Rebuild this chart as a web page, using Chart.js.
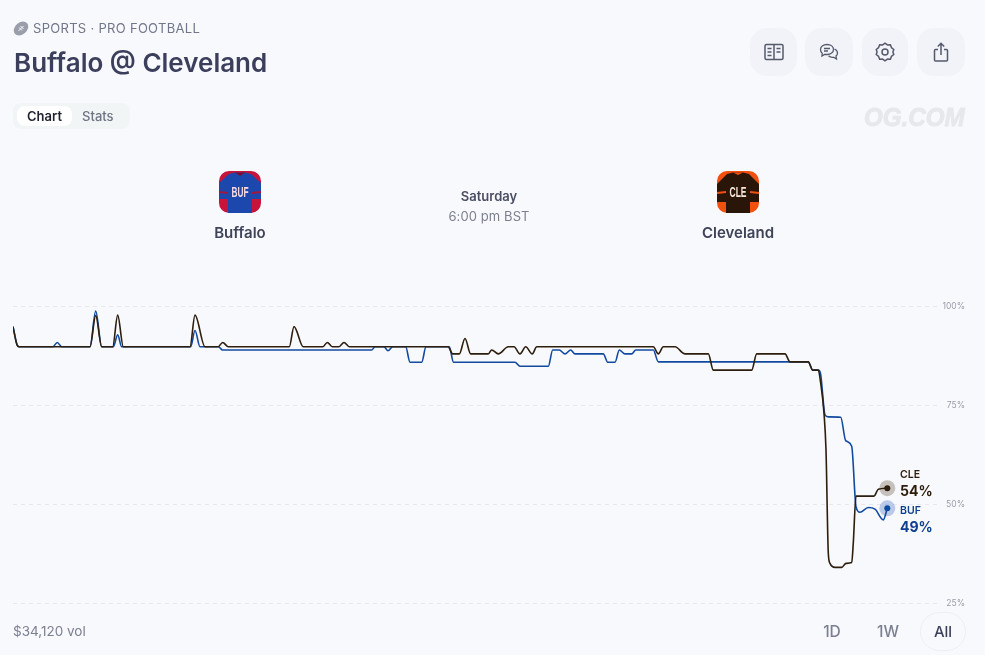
<!DOCTYPE html>
<html>
<head>
<meta charset="utf-8">
<title>Buffalo @ Cleveland</title>
<script src="https://cdn.jsdelivr.net/npm/chart.js@4"></script>
<style>
  html, body { margin: 0; padding: 0; }
  body { width: 985px; height: 655px; background: #f8f9fd; font-family: Inter, "Noto Sans", sans-serif; overflow: hidden; position: relative; }
  canvas { position: absolute; left: 0; top: 0; }
  .txt { position: absolute; white-space: nowrap; line-height: 1; }
  .center { transform: translateX(-50%); }
  .btn { position: absolute; top: 28px; width: 47px; height: 48px; border-radius: 17px; background: #f2f3f8; display: flex; align-items: center; justify-content: center; }
  .logo { position: absolute; top: 171px; width: 42px; height: 42px; }
</style>
</head>
<body>
<canvas id="priceChart" width="985" height="655"></canvas>

<svg style="position:absolute;left:13px;top:21px" width="16" height="15" viewBox="0 0 16 15">
  <ellipse cx="8" cy="7.500" rx="8" ry="6" transform="rotate(-40 8 7.500)" fill="#9a9eaa"/>
  <path d="M5.500 10 L10.500 5 M6 6.500l3 3M7.500 5l3 3" stroke="#f8f9fd" stroke-width="1"/>
</svg>
<div class="txt" style="left:33px;top:22px;font-size:13px;color:#71768a;letter-spacing:.3px">SPORTS · PRO FOOTBALL</div>
<div class="txt" style="left:14px;top:50px;font-size:26px;font-weight:600;color:#3b3f5c">Buffalo @ Cleveland</div>

<div style="position:absolute;left:13px;top:103px;width:117px;height:26px;border-radius:8px;background:#f2f5f6"></div>
<div style="position:absolute;left:17px;top:106px;width:55px;height:20px;border-radius:8px;background:#fff"></div>
<div class="txt" style="left:27px;top:110px;font-size:13px;font-weight:600;color:#1f2130">Chart</div>
<div class="txt" style="left:82px;top:110px;font-size:13px;font-weight:500;color:#6f7484">Stats</div>

<div class="btn" style="left:750px"><svg width="20" height="18" viewBox="0 0 20 18" fill="none" stroke="#555a6b" stroke-width="1.500"><rect x="1" y="1.500" width="18" height="15" rx="1.500"/><path d="M10 1.500v15M3.500 5.500h4M3.500 9h4M3.500 12.500h4M12.500 5.500h4M12.500 9h4"/></svg></div>
<div class="btn" style="left:805px;width:48px"><svg width="20" height="18" viewBox="0 0 20 18" fill="none" stroke="#555a6b" stroke-width="1.300"><path d="M8 1.500c4 0 6.500 2.200 6.500 5s-2.700 5-6.500 5c-.8 0-1.500-.1-2-.2L3 13l.2-2.800C2 9.300 1.500 8 1.500 6.500c0-2.800 2.500-5 6.500-5z"/><path d="M5 5.500h6M5 8h4"/><path d="M15.500 6c1.800.8 3 2.200 3 4 0 1.200-.5 2.300-1.500 3l.5 3-3-1.700c-2 .3-3.800-.3-5-1.500"/></svg></div>
<div class="btn" style="left:862px;width:46px"><svg width="20" height="20" viewBox="0 0 20 20" fill="none" stroke="#555a6b" stroke-width="1.500"><path d="M10 1.200l2.400 1.700 3-.1 1 2.800 2.400 1.900-.9 2.500.9 2.500-2.400 1.900-1 2.800-3-.1L10 18.800l-2.400-1.700-3 .1-1-2.800L1.200 12.500l.9-2.500-.9-2.500 2.400-1.900 1-2.800 3 .1z" stroke-linejoin="round"/><circle cx="10" cy="10" r="3"/></svg></div>
<div class="btn" style="left:917px;width:48px"><svg width="16" height="20" viewBox="0 0 16 20" fill="none" stroke="#555a6b" stroke-width="1.500"><path d="M5 7.500H2.500a1 1 0 0 0-1 1V18a1 1 0 0 0 1 1h11a1 1 0 0 0 1-1V8.500a1 1 0 0 0-1-1H11"/><path d="M8 13V1.500M4.800 4.500L8 1.300l3.200 3.200"/></svg></div>

<div class="txt" style="left:864px;top:104px;font-family:'Liberation Sans',sans-serif;font-size:26px;font-weight:700;font-style:italic;color:#e7e8ec;-webkit-text-stroke:1px #e7e8ec;transform:scaleX(.93);transform-origin:left">OG.COM</div>

<svg class="logo" style="left:219px" viewBox="0 0 42 42">
  <rect width="42" height="42" rx="10" fill="#c8133b"/>
  <path d="M10 3 L16 1.500 H26 L32 3 L42 12 L42 28 L33 28 L33 42 H9 L9 28 L0 28 L0 12 Z" fill="#1c48ad"/>
  <path d="M16 1.500 L21 5 L26 1.500 Z" fill="#7a1030"/>
  <path d="M0 20 L9 21 L9 23 L0 22 Z M42 20 L33 21 L33 23 L42 22 Z" fill="#a3163f"/>
  <text x="21" y="26" text-anchor="middle" textLength="17" lengthAdjust="spacingAndGlyphs" font-family="Liberation Sans, sans-serif" font-size="14" font-weight="700" fill="#f6d9e0">BUF</text>
</svg>
<svg class="logo" style="left:717px" viewBox="0 0 42 42">
  <rect width="42" height="42" rx="10" fill="#f2500f"/>
  <path d="M10 3 L16 1.500 H26 L32 3 L42 13 L42 31 L33 31 L33 42 H9 L9 31 L0 31 L0 13 Z" fill="#2a1609"/>
  <path d="M16 1.500 L21 4 L26 1.500 Z" fill="#f2500f"/>
  <path d="M0 21 L9 20 L9 22 L0 23 Z M42 21 L33 20 L33 22 L42 23 Z" fill="#f2500f"/>
  <text x="21" y="26" text-anchor="middle" textLength="17" lengthAdjust="spacingAndGlyphs" font-family="Liberation Sans, sans-serif" font-size="14" font-weight="700" fill="#f6e7d8">CLE</text>
</svg>

<div class="txt center" style="left:240px;top:225px;font-size:15px;font-weight:600;color:#3f4358">Buffalo</div>
<div class="txt center" style="left:738px;top:225px;font-size:15px;font-weight:600;color:#3f4358">Cleveland</div>
<div class="txt center" style="left:489px;top:190px;font-size:13px;font-weight:600;color:#4a4e62">Saturday</div>
<div class="txt center" style="left:489px;top:210px;font-size:13px;color:#7b7f90;letter-spacing:.1px">6:00 pm BST</div>

<div class="txt" style="left:900px;top:470px;font-size:10.500px;font-weight:600;color:#2c1c0c">CLE</div>
<div class="txt" style="left:900px;top:484px;font-size:14px;font-weight:700;color:#2c1c0c">54%</div>
<div class="txt" style="left:900px;top:506px;font-size:10.500px;font-weight:600;color:#0f3f8f">BUF</div>
<div class="txt" style="left:900px;top:520px;font-size:14px;font-weight:700;color:#0f3f8f">49%</div>

<div class="txt" style="left:13px;top:625px;font-size:13.500px;color:#7b7f90">$34,120 vol</div>
<div class="txt center" style="left:832px;top:624px;font-size:15.500px;font-weight:500;color:#7b7f90">1D</div>
<div class="txt center" style="left:888px;top:624px;font-size:15.500px;font-weight:500;color:#7b7f90">1W</div>
<div style="position:absolute;left:920px;top:612px;width:44px;height:37px;border-radius:20px;border:1px solid #eceef3"></div>
<div class="txt center" style="left:943px;top:624px;font-size:15px;font-weight:500;color:#3b3f5c">All</div>

<script>
// horizontal position along the market's history
const cleTimes = [13, 17, 19, 90, 95.7, 101.7, 112.7, 117.7, 123.3, 190, 195, 205, 218, 222.7, 228.3, 289.3, 294, 303.3, 322.7, 327.3, 332.3, 339, 344, 349.3, 448, 452.7, 459.3, 465, 470.7, 488.3, 491.7, 498.3, 508.3, 514, 520, 525.7, 532.3, 536.7, 653.3, 658.3, 663.3, 675, 685, 708.3, 713.3, 751.7, 756.7, 785, 790, 808.3, 812.7, 818.3, 820.7, 824, 826, 828.3, 830, 835, 841.7, 846, 851.7, 853.3, 856, 874, 878.3, 887.3];
const clePct = [94.8, 90.2, 89.7, 89.7, 97.6, 89.7, 89.7, 97.7, 89.7, 89.7, 97.7, 89.7, 89.7, 90.8, 89.7, 89.7, 94.8, 89.7, 89.7, 90.8, 89.7, 89.7, 90.8, 89.7, 89.7, 87.9, 87.9, 91.8, 87.9, 87.9, 88.9, 87.9, 89.7, 89.7, 87.9, 89.7, 87.9, 89.7, 89.7, 87.9, 89.7, 89.7, 87.9, 87.9, 83.8, 83.8, 87.9, 87.9, 85.9, 85.9, 83.8, 83.8, 80.5, 72.9, 63.6, 37.6, 35, 34, 34, 35, 35.2, 40.2, 52, 52, 53.7, 54];

const bufTimes = [13, 17, 19, 52.7, 57.3, 61.7, 90, 95.7, 101.7, 113.3, 117.7, 121.7, 190.7, 195, 200, 218.3, 222.7, 371.7, 375, 384, 388, 392.7, 405.7, 410, 421.7, 426, 449.3, 453.5, 515, 520, 548.3, 552.7, 559.3, 565, 570.7, 575, 603.3, 607.7, 615, 619.3, 625, 631.7, 635.7, 653.3, 658.3, 808.3, 812.7, 818.3, 820.5, 825, 828.3, 840.7, 845.7, 851.7, 856, 860, 868.3, 875, 883.3, 887.3];
const bufPct = [94.8, 90.2, 89.7, 89.7, 90.8, 89.7, 89.7, 98.7, 89.7, 89.7, 92.7, 89.7, 89.7, 93.8, 89.7, 89.7, 88.9, 88.9, 89.7, 89.7, 88.7, 89.7, 89.7, 85.8, 85.8, 89.7, 89.7, 85.8, 85.8, 84.8, 84.8, 88.9, 88.9, 87.9, 88.9, 87.9, 87.9, 85.8, 85.8, 88.9, 87.9, 87.9, 88.9, 88.9, 85.9, 85.9, 83.8, 83.8, 83, 72.5, 72, 71.9, 66, 64.6, 49.3, 47.9, 49.1, 48.7, 46, 48.9];

const yTicks = [25, 50, 75, 100];
const cleColor = '#2e1e0d';
const bufColor = '#124a9f';

function toPoints(xs, ys) {
    return xs.map((x, i) => ({ x: x, y: ys[i] }));
}
function lastPoint(xs, ys) {
    return [{ x: xs[xs.length - 1], y: ys[ys.length - 1] }];
}
function lineSet(label, xs, ys, color) {
    return {
        label: label,
        data: toPoints(xs, ys),
        borderColor: color,
        borderWidth: 1.6,
        pointRadius: 0,
        cubicInterpolationMode: 'monotone',
        borderJoinStyle: 'round'
    };
}
function dotSet(label, xs, ys, color, radius) {
    return {
        label: label,
        data: lastPoint(xs, ys),
        showLine: false,
        pointRadius: radius,
        pointBackgroundColor: color,
        pointBorderWidth: 0
    };
}

const ctx = document.getElementById('priceChart').getContext('2d');
new Chart(ctx, {
    type: 'line',
    data: {
        datasets: [
            dotSet('CLE now', cleTimes, clePct, cleColor, 3),
            dotSet('BUF now', bufTimes, bufPct, bufColor, 3),
            lineSet('CLE', cleTimes, clePct, cleColor),
            lineSet('BUF', bufTimes, bufPct, bufColor),
            dotSet('CLE halo', cleTimes, clePct, 'rgba(70,50,20,0.28)', 8),
            dotSet('BUF halo', bufTimes, bufPct, 'rgba(25,80,180,0.28)', 8)
        ]
    },
    options: {
        responsive: false,
        animation: false,
        events: [],
        layout: { padding: { left: 13, right: 20, top: 306, bottom: 52 } },
        plugins: { legend: { display: false }, tooltip: { enabled: false } },
        scales: {
            x: { type: 'linear', display: false, min: 13, max: 937 },
            y: {
                position: 'right',
                min: 25,
                max: 100,
                afterFit: (scale) => { scale.width = 28; },
                afterBuildTicks: (scale) => { scale.ticks = yTicks.map(v => ({ value: v })); },
                grid: { color: '#e6e8ee', lineWidth: 1, drawTicks: false },
                border: { display: false, dash: [4, 4] },
                ticks: {
                    color: '#9a9da9',
                    font: { family: 'Inter', size: 8.5 },
                    padding: 6,
                    crossAlign: 'far',
                    callback: (v) => v + '%'
                }
            }
        }
    }
});
</script>
</body>
</html>
